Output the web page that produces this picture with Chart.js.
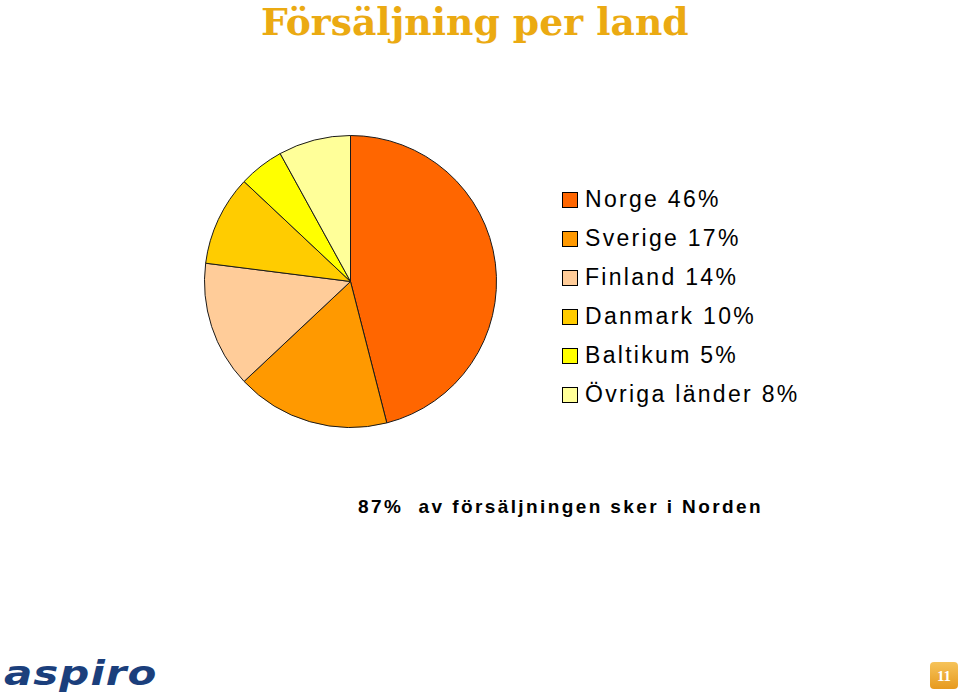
<!DOCTYPE html>
<html>
<head>
<meta charset="utf-8">
<script src="https://cdn.jsdelivr.net/npm/chart.js@4/dist/chart.umd.min.js"></script>
<style>
  body { margin:0; width:960px; height:694px; background:#fff; position:relative; overflow:hidden; }
  #title { position:absolute; left:261px; top:0px; font-family:"DejaVu Serif", serif; font-weight:bold; font-size:37.7px; line-height:44px; color:#EBAA12; white-space:nowrap; }
  #pieBox { position:absolute; left:204px; top:135px; width:293px; height:293px; }
  #legend { position:absolute; left:562px; top:184px; font-family:"Liberation Sans", Arial, sans-serif; font-size:23px; letter-spacing:2.3px; color:#000; }
  .item { height:39px; line-height:30px; white-space:nowrap; }
  .box { display:inline-block; width:14px; height:14px; border:1px solid #000; margin-right:7px; vertical-align:-1px; }
  #note { position:absolute; left:358px; top:496px; font-family:"Liberation Sans", Arial, sans-serif; font-weight:bold; font-size:19px; letter-spacing:2.4px; white-space:nowrap; }
  #logo { position:absolute; left:4px; top:649px; font-family:"DejaVu Sans", sans-serif; font-weight:bold; font-style:italic; font-size:42px; color:#1B3F7C; letter-spacing:1px; transform:scaleY(0.8); transform-origin:left center; }
  #page { position:absolute; left:930px; top:662px; width:28px; height:27px; border-radius:4px; background:linear-gradient(#F6C35A,#E79A1E); color:#fff; font-family:"Liberation Serif", serif; font-weight:bold; font-size:15px; text-align:center; line-height:28px; }
</style>
</head>
<body>
<div id="title">Försäljning per land</div>
<div id="pieBox"><canvas id="pie"></canvas></div>
<div id="legend"></div>
<div id="note">87%&nbsp; av försäljningen sker i Norden</div>
<div id="logo">aspiro</div>
<div id="page">11</div>
<script>
// andel per land (%)
var countries = ['Norge', 'Sverige', 'Finland', 'Danmark', 'Baltikum', 'Övriga länder'];
var shares = [46, 17, 14, 10, 5, 8];
var colors = ['#FF6600', '#FF9900', '#FFCC99', '#FFCC00', '#FFFF00', '#FFFF99'];

var legend = document.getElementById('legend');
for (var i = 0; i < countries.length; i++) {
  var row = document.createElement('div');
  row.className = 'item';
  row.innerHTML = '<span class="box" style="background:' + colors[i] + '"></span>' + countries[i] + ' ' + shares[i] + '%';
  legend.appendChild(row);
}

var ctx = document.getElementById('pie');
var pieChart = new Chart(ctx, {
  type: 'pie',
  data: {
    labels: countries,
    datasets: [{
      data: shares,
      backgroundColor: colors,
      borderColor: '#1a1a1a',
      borderWidth: 1
    }]
  },
  options: {
    responsive: true,
    maintainAspectRatio: false,
    animation: false,
    layout: { padding: 0 },
    plugins: {
      legend: { display: false },
      tooltip: { enabled: false }
    }
  }
});
</script>
</body>
</html>
